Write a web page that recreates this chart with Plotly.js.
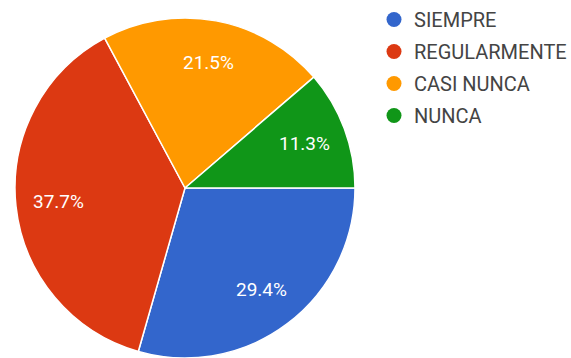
<!DOCTYPE html>
<html>
<head>
<meta charset="utf-8">
<script src="https://cdn.plot.ly/plotly-3.0.1.min.js"></script>
<style>html,body{margin:0;padding:0;background:#fff;}#chart{width:571px;height:358px;}</style>
</head>
<body>
<div id="chart"></div>
<script>
const categories = ["SIEMPRE", "REGULARMENTE", "CASI NUNCA", "NUNCA"];
const percentages = [29.4, 37.7, 21.5, 11.3];
const sliceColors = ["#3366cc", "#dc3912", "#ff9900", "#109618"];

const W = 571, H = 358;
const pieDomain = {x: [15 / W, 355 / W], y: [0, 340 / H]};
const pieRotation = 90;

const pieTrace = {
  type: "pie",
  labels: categories,
  values: percentages,
  sort: false,
  direction: "clockwise",
  rotation: pieRotation,
  domain: pieDomain,
  automargin: false,
  marker: {colors: sliceColors, line: {color: "#ffffff", width: 1.5}},
  textinfo: "none",
  hoverinfo: "none",
  showlegend: false
};

const legendTraces = categories.map((c, i) => ({
  type: "scatter",
  mode: "markers",
  x: [null], y: [null],
  name: c,
  legendgroup: "g" + i,
  marker: {symbol: "circle", size: 15, color: sliceColors[i]},
  hoverinfo: "none",
  showlegend: true
}));

// Slice labels placed along each slice's bisector, derived from the data
const total = percentages.reduce((a, b) => a + b, 0);
const cx = (pieDomain.x[0] + pieDomain.x[1]) / 2 * W;
const cy = (pieDomain.y[0] + pieDomain.y[1]) / 2 * H;
const R = Math.min((pieDomain.x[1] - pieDomain.x[0]) * W, (pieDomain.y[1] - pieDomain.y[0]) * H) / 2;
let acc = 0;
const annotations = percentages.map((v) => {
  const mid = pieRotation + (acc + v / 2) / total * 360;
  acc += v;
  const th = mid * Math.PI / 180;
  const r = 0.75 * R;
  return {
    xref: "paper", yref: "paper",
    x: (cx + r * Math.sin(th)) / W,
    y: (cy + r * Math.cos(th)) / H,
    text: v.toFixed(1) + "%",
    showarrow: false,
    font: {family: "Roboto, Arial, sans-serif", size: 19, color: "#ffffff"},
    xanchor: "center", yanchor: "middle"
  };
});

const layout = {
  width: W, height: H,
  margin: {l: 0, r: 0, t: 0, b: 0, autoexpand: false},
  paper_bgcolor: "#ffffff",
  plot_bgcolor: "#ffffff",
  xaxis: {visible: false, range: [0, 1]},
  yaxis: {visible: false, range: [0, 1]},
  showlegend: true,
  hovermode: false,
  legend: {
    x: 374 / W, y: 1, xanchor: "left", yanchor: "top",
    font: {family: "Roboto, Arial, sans-serif", size: 20, color: "#444444"},
    tracegroupgap: 3,
    itemclick: false, itemdoubleclick: false,
    bgcolor: "rgba(0,0,0,0)"
  },
  annotations: annotations
};

Plotly.newPlot("chart", [pieTrace].concat(legendTraces), layout, {displayModeBar: false, staticPlot: true});
</script>
</body>
</html>
